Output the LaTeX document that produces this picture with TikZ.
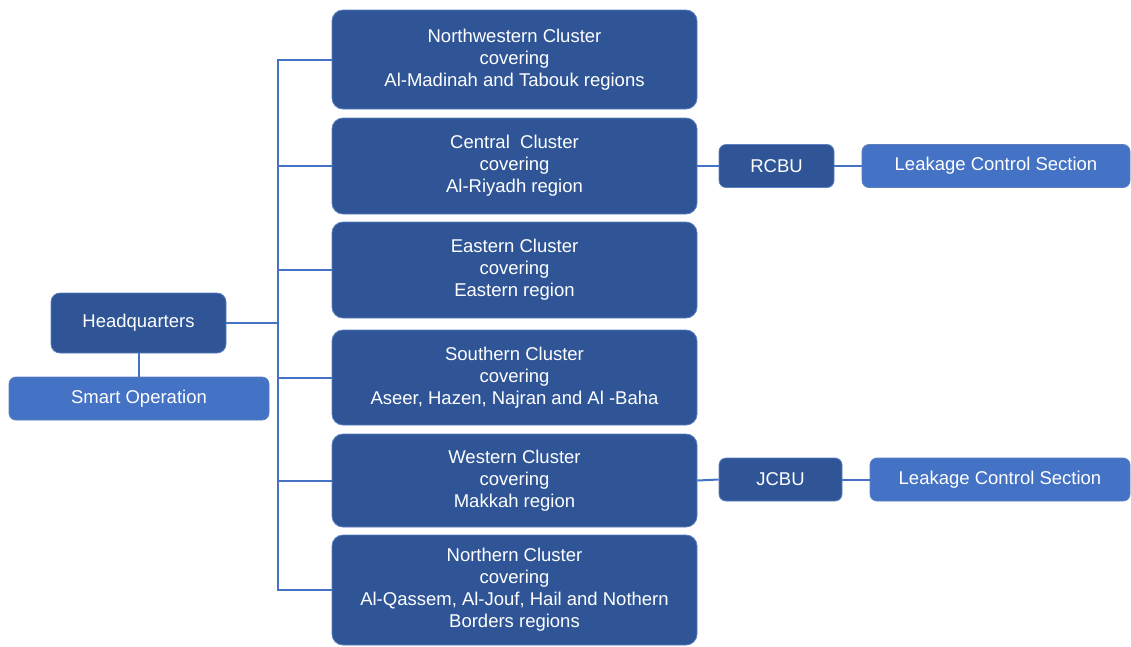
\documentclass[tikz,border=0pt]{standalone}
\usepackage{fontspec}
\setmainfont{Liberation Sans}
\definecolor{darkblue}{HTML}{2F5597}
\definecolor{midblue}{HTML}{4472C4}
\definecolor{edgeblue}{HTML}{5B7FC0}
\begin{document}
\begin{tikzpicture}[x=1pt,y=-1pt,
  box/.style={rectangle,rounded corners=11pt,fill=darkblue,draw=edgeblue,line width=0.8pt,
    text=white,align=center,font=\fontsize{18.5}{22}\selectfont,inner sep=0pt},
  lightbox/.style={box,fill=midblue,draw=edgeblue,rounded corners=7pt},
  smallbox/.style={box,rounded corners=7pt},
  link/.style={draw=midblue,line width=2pt}]
\useasboundingbox (0,0) rectangle (1131,646);
% clusters
\node[box,minimum width=365pt,minimum height=99pt] (nw) at (514.5,59.5)
  {Northwestern Cluster\\covering\\Al-Madinah and Tabouk regions};
\node[box,minimum width=365pt,minimum height=96pt] (cc) at (514.5,166)
  {Central\ \ Cluster\\covering\\Al-Riyadh region};
\node[box,minimum width=365pt,minimum height=96pt] (ec) at (514.5,270)
  {Eastern Cluster\\covering\\Eastern region};
\node[box,minimum width=365pt,minimum height=95pt] (sc) at (514.5,377.5)
  {Southern Cluster\\covering\\Aseer, Hazen, Najran and Al -Baha};
\node[box,minimum width=365pt,minimum height=93pt] (wc) at (514.5,480.5)
  {Western Cluster\\covering\\Makkah region};
\node[box,minimum width=365pt,minimum height=110pt] (nc) at (514.5,590)
  {Northern Cluster\\covering\\Al-Qassem, Al-Jouf, Hail and Nothern\\Borders regions};
% headquarters
\node[box,rounded corners=9pt,minimum width=175pt,minimum height=60pt] (hq) at (138.5,323) {Headquarters};
\node[lightbox,minimum width=260pt,minimum height=43pt] (so) at (139,398.5) {Smart Operation};
% business units
\node[smallbox,minimum width=115pt,minimum height=43pt] (rcbu) at (776.5,166) {RCBU};
\node[lightbox,minimum width=268pt,minimum height=43pt] (lcs1) at (996,166) {Leakage Control Section};
\node[smallbox,minimum width=123pt,minimum height=43pt] (jcbu) at (780.5,479.5) {JCBU};
\node[lightbox,minimum width=260pt,minimum height=43pt] (lcs2) at (1000,479.5) {Leakage Control Section};
% connectors
\coordinate (t) at (278,0);
\draw[link] (nw.west) -- (nw.west -| t) -- (nc.west -| t) -- (nc.west);
\draw[link] (cc.west) -- (cc.west -| t);
\draw[link] (ec.west) -- (ec.west -| t);
\draw[link] (sc.west) -- (sc.west -| t);
\draw[link] (wc.west) -- (wc.west -| t);
\draw[link] (hq.east) -- (hq.east -| t);
\draw[link] (hq.south) -- (so.north -| hq.south);
\draw[link] (cc.east) -- (rcbu.west);
\draw[link] (rcbu.east) -- (lcs1.west);
\draw[link] (wc.east) -- (jcbu.west);
\draw[link] (jcbu.east) -- (lcs2.west);
\end{tikzpicture}
\end{document}
